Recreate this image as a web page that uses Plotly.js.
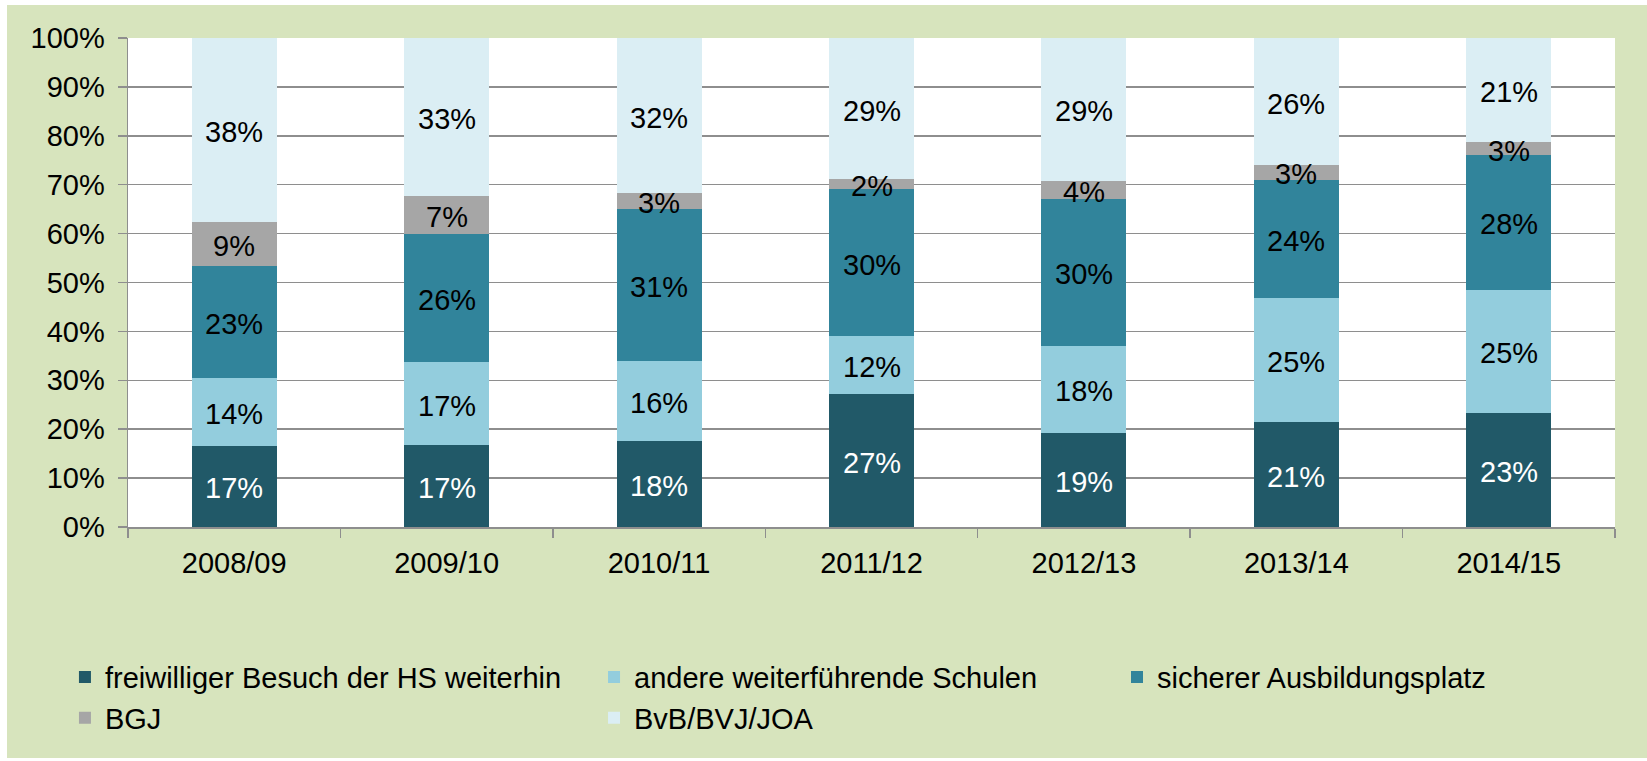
<!DOCTYPE html>
<html>
<head>
<meta charset="utf-8">
<script src="https://cdn.plot.ly/plotly-3.0.1.min.js"></script>
<style>
  html, body { margin: 0; padding: 0; background: #ffffff; }
  #chart { position: absolute; left: 7px; top: 5px; width: 1640px; height: 753px; }
</style>
</head>
<body>
<div id="chart"></div>
<script>
// Categories (school years)
const years = ["2008/09", "2009/10", "2010/11", "2011/12", "2012/13", "2013/14", "2014/15"];

// Series values in percent
const freiwilliger = [16.6, 16.7, 17.6, 27.2, 19.3, 21.4, 23.3];
const andereSchulen = [13.9, 17.0, 16.3, 11.8, 17.8, 25.4, 25.2];
const ausbildung = [22.8, 26.2, 31.1, 30.1, 29.9, 24.2, 27.6];
const bgj = [9.0, 7.7, 3.3, 2.0, 3.8, 3.0, 2.6];
const bvb = [37.7, 32.4, 31.7, 28.9, 29.2, 26.0, 21.3];

// Data labels as shown
const labFreiwilliger = ["17%", "17%", "18%", "27%", "19%", "21%", "23%"];
const labAndere = ["14%", "17%", "16%", "12%", "18%", "25%", "25%"];
const labAusbildung = ["23%", "26%", "31%", "30%", "30%", "24%", "28%"];
const labBgj = ["9%", "7%", "3%", "2%", "4%", "3%", "3%"];
const labBvb = ["38%", "33%", "32%", "29%", "29%", "26%", "21%"];

const seriesNames = [
  "freiwilliger Besuch der HS weiterhin",
  "andere weiterführende Schulen",
  "sicherer Ausbildungsplatz",
  "BGJ",
  "BvB/BVJ/JOA"
];
const seriesValues = [freiwilliger, andereSchulen, ausbildung, bgj, bvb];
const seriesLabels = [labFreiwilliger, labAndere, labAusbildung, labBgj, labBvb];
const seriesColors = ["#215968", "#93CDDD", "#31849B", "#A6A6A6", "#DBEEF4"];
const labelColors = ["#ffffff", "#000000", "#000000", "#000000", "#000000"];
// legend column for each series (Excel lays them out in 3 columns)
const legendColumn = ["legend", "legend2", "legend3", "legend", "legend2"];

const FONT = "Liberation Sans, Arial, sans-serif";
const traces = [];
const annotations = [];
const base = years.map(() => 0);

seriesValues.forEach((vals, i) => {
  traces.push({
    type: "bar",
    name: seriesNames[i],
    x: years,
    y: vals,
    legend: legendColumn[i],
    legendgroup: "g" + i,
    marker: { color: seriesColors[i], line: { width: 0 } },
    hoverinfo: "none"
  });
  vals.forEach((v, j) => {
    annotations.push({
      x: years[j],
      y: base[j] + v / 2,
      xref: "x",
      yref: "y",
      text: seriesLabels[i][j],
      showarrow: false,
      yshift: -2,
      font: { family: FONT, size: 29, color: labelColors[i] }
    });
    base[j] += v;
  });
});

const gridColor = "#8E8E8E";

function legendAt(x) {
  return {
    orientation: "v",
    x: x,
    xanchor: "left",
    y: -0.255,
    yanchor: "top",
    traceorder: "normal",
    tracegroupgap: 7,
    font: { family: FONT, size: 29, color: "#000000" },
    bgcolor: "rgba(0,0,0,0)"
  };
}

const layout = {
  width: 1640,
  height: 753,
  paper_bgcolor: "#D7E4BD",
  plot_bgcolor: "#ffffff",
  barmode: "stack",
  bargap: 0.6,
  margin: { l: 121, r: 32, t: 33, b: 231 },
  font: { family: FONT, size: 29, color: "#000000" },
  showlegend: true,
  annotations: annotations,
  legend: legendAt(-0.0424),
  legend2: legendAt(0.3134),
  legend3: legendAt(0.6651),
  xaxis: {
    type: "category",
    showgrid: false,
    showline: true,
    linecolor: gridColor,
    linewidth: 1.5,
    ticks: "outside",
    tickson: "boundaries",
    ticklen: 9,
    tickcolor: gridColor,
    tickwidth: 1.5,
    tickfont: { family: FONT, size: 29, color: "#000000" },
    ticklabelstandoff: 10,
    fixedrange: true
  },
  yaxis: {
    range: [0, 100],
    dtick: 10,
    tick0: 0,
    ticksuffix: "%",
    showgrid: true,
    gridcolor: gridColor,
    gridwidth: 1.5,
    zeroline: false,
    showline: true,
    linecolor: gridColor,
    linewidth: 1.5,
    ticks: "outside",
    ticklen: 9,
    tickcolor: gridColor,
    tickwidth: 1.5,
    tickfont: { family: FONT, size: 29, color: "#000000" },
    ticklabelstandoff: 7,
    fixedrange: true
  }
};

Plotly.newPlot("chart", traces, layout, { displayModeBar: false, staticPlot: true });
</script>
</body>
</html>
